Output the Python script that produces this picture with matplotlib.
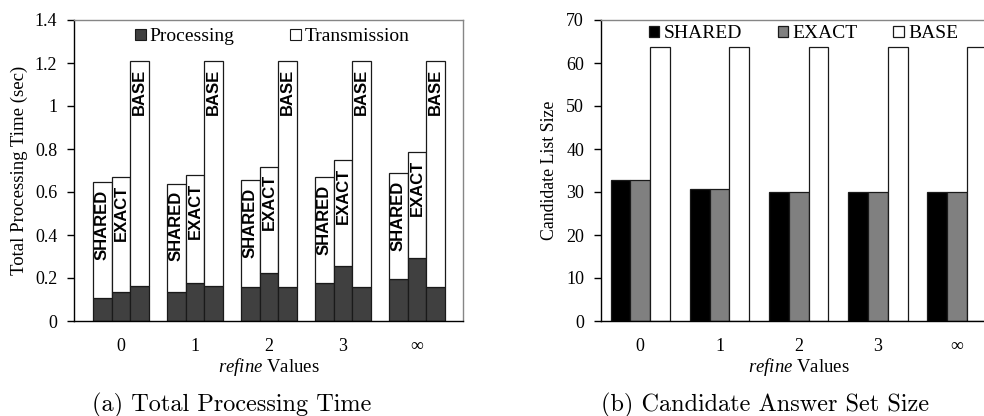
import numpy as np
from matplotlib import pyplot as plt
from matplotlib.patches import Patch

plt.rcParams['font.family'] = ['Liberation Serif', 'DejaVu Serif']
plt.rcParams['mathtext.fontset'] = 'custom'
plt.rcParams['mathtext.rm'] = 'Liberation Serif'
plt.rcParams['mathtext.it'] = 'Liberation Serif:italic'

# data
refine = ['0', '1', '2', '3', '\u221e']
methods = ['SHARED', 'EXACT', 'BASE']

# (a) total time = processing + transmission
total = {
    'SHARED': [0.647, 0.639, 0.654, 0.671, 0.687],
    'EXACT':  [0.670, 0.679, 0.718, 0.747, 0.784],
    'BASE':   [1.208, 1.208, 1.208, 1.208, 1.208],
}
proc = {
    'SHARED': [0.108, 0.133, 0.158, 0.177, 0.195],
    'EXACT':  [0.133, 0.175, 0.223, 0.256, 0.295],
    'BASE':   [0.164, 0.163, 0.160, 0.160, 0.160],
}

# (b) candidate list size
cand = {
    'SHARED': [32.8, 30.6, 30.1, 29.9, 29.9],
    'EXACT':  [32.8, 30.6, 30.1, 29.9, 29.9],
    'BASE':   [63.7, 63.7, 63.7, 63.7, 63.7],
}

fig = plt.figure(figsize=(9.84, 4.16), dpi=100)
ax1 = fig.add_axes([74/984, 95/416, 389/984, 301/416])
ax2 = fig.add_axes([600.7/984, 95/416, 396/984, 301/416])

x = np.arange(len(refine))
edge = '#1a1a1a'


def style_axes(ax):
    for s in ['top', 'right']:
        ax.spines[s].set_color('#868686')
    for s in ['left', 'bottom']:
        ax.spines[s].set_color('black')
    for s in ax.spines.values():
        s.set_linewidth(1.0)
    ax.tick_params(axis='y', direction='out', length=5, width=1, pad=7, labelsize=13)
    ax.tick_params(axis='x', length=0, pad=12, labelsize=13)
    ax.set_xticks(x)
    ax.set_xticklabels(refine)
    ax.set_xlabel(r'$\mathit{refine}$ Values', fontsize=13.5, labelpad=1)


# (a) stacked bars
w1 = 0.252
for i, m in enumerate(methods):
    xs = x + (i - 1) * w1
    tr = np.array(total[m]) - np.array(proc[m])
    ax1.bar(xs, proc[m], w1, color='#404040', edgecolor=edge, linewidth=0.9)
    ax1.bar(xs, tr, w1, bottom=proc[m], color='white', edgecolor=edge, linewidth=0.9)
    for xi, t in zip(xs, total[m]):
        ax1.text(xi, t - 0.035, m, rotation=90, ha='center', va='top',
                 family='Liberation Sans', weight='bold', fontsize=12)

ax1.set_xlim(-0.635, 4.62)
ax1.set_ylim(0, 1.4)
ax1.set_yticks(np.arange(0, 1.41, 0.2))
ax1.set_yticklabels(['0', '0.2', '0.4', '0.6', '0.8', '1', '1.2', '1.4'])
ax1.set_ylabel('Total Processing Time (sec)', fontsize=13.5, labelpad=5)
style_axes(ax1)
h1 = [Patch(facecolor='#404040', edgecolor=edge, lw=0.8),
      Patch(facecolor='white', edgecolor=edge, lw=0.8)]
ax1.legend(h1, ['Processing', 'Transmission'], loc='upper center', ncol=2,
           frameon=False, fontsize=14, handlelength=0.55, handleheight=0.55,
           handletextpad=0.2, columnspacing=2.85, bbox_to_anchor=(0.51, 1.03))

# (b) grouped bars
w2 = 0.25
colors = ['black', '#808080', 'white']
for i, m in enumerate(methods):
    ax2.bar(x + (i - 1) * w2, cand[m], w2, color=colors[i], edgecolor=edge,
            linewidth=0.9, label=m)

ax2.set_xlim(-0.5, 4.5)
ax2.set_ylim(0, 70)
ax2.set_yticks(np.arange(0, 71, 10))
ax2.set_ylabel('Candidate List Size', fontsize=12.8, labelpad=6)
style_axes(ax2)
ax2.legend(loc='upper center', ncol=3, frameon=False, fontsize=14,
           handlelength=0.55, handleheight=0.55, handletextpad=0.2,
           columnspacing=1.85, bbox_to_anchor=(0.512, 1.04))

# captions
fig.text(232/984, 11/416, '(a) Total Processing Time', family='cmr10',
         fontsize=17.5, ha='center', va='center')
fig.text(765/984, 11/416, '(b) Candidate Answer Set Size', family='cmr10',
         fontsize=17.5, ha='center', va='center')

plt.savefig('out.png', dpi=100)
